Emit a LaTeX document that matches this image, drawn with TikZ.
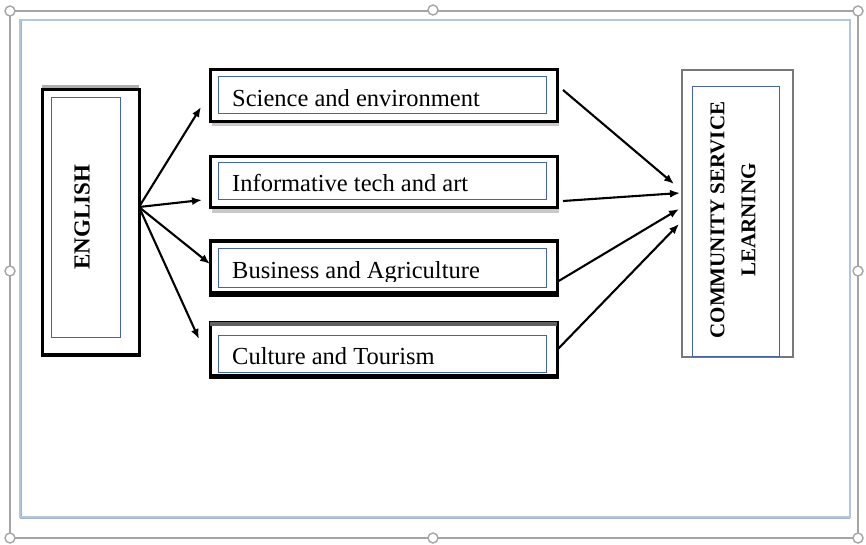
\documentclass[tikz,border=0pt]{standalone}
\usepackage{fontspec}
\setmainfont{Liberation Serif}
\usetikzlibrary{arrows.meta}
\definecolor{selgray}{RGB}{165,165,165}
\definecolor{framblue}{RGB}{178,198,222}
\definecolor{innerblue}{RGB}{70,100,165}
\definecolor{shade}{RGB}{120,120,120}
\tikzset{
  handle/.style={circle,draw=selgray,fill=white,line width=1.4pt,inner sep=0pt,minimum size=10pt},
  outerbox/.style={draw=black,line width=3pt,fill=white,inner sep=0pt},
  innerbox/.style={draw=innerblue,line width=0.9pt,inner sep=0pt},
  topic/.style={anchor=base west,inner sep=0pt,font=\fontsize{24.5}{28}\selectfont},
  flow/.style={line width=2.1pt,-{Latex[length=10pt,width=8pt]}},
}
\begin{document}
\begin{tikzpicture}[x=1pt,y=-1pt]
\useasboundingbox[fill=white] (0,0) rectangle (866,545);

% selection outline with its handles
\draw[selgray,line width=1.4pt] (10,11) rectangle (858,538);
\node[handle] (h1) at (10,11) {};
\node[handle] (h2) at (433,10) {};
\node[handle] (h3) at (858,11) {};
\node[handle] (h4) at (10,271) {};
\node[handle] (h5) at (858,271) {};
\node[handle] (h6) at (10,538) {};
\node[handle] (h7) at (433,538) {};
\node[handle] (h8) at (858,538) {};

% canvas frame
\draw[framblue!70!gray,line width=1.2pt] (21,21) -- (21,518) -- (850,518);
\draw[framblue,line width=2.4pt] (20,20) rectangle (850,517);

% ENGLISH block
\fill[shade!60] (42,85) rectangle (139,90);
\node[outerbox,minimum width=97pt,minimum height=265pt] (eng) at (90.5,222.5) {};
\draw[black,line width=3pt] (42,354) -- (139,354);
\node[innerbox,minimum width=69pt,minimum height=240pt] (engin) at (85.5,217) {};
\node[rotate=90,font=\bfseries\fontsize{23}{26}\selectfont] (engtxt) at (82,217) {ENGLISH};

% topic blocks
\fill[shade!40] (212,122) rectangle (559,126);
\node[outerbox,minimum width=347pt,minimum height=52pt] (sci) at (383.5,96) {};
\node[innerbox,minimum width=328pt,minimum height=37pt] (sciin) at (382,94.5) {};
\node[topic] (scitxt) at (232,107) {Science and environment};

\fill[shade!40] (212,208) rectangle (559,213);
\node[outerbox,minimum width=347pt,minimum height=51pt] (inf) at (383.5,182.5) {};
\node[innerbox,minimum width=328pt,minimum height=37pt] (infin) at (382,181) {};
\node[topic] (inftxt) at (232,192) {Informative tech and art};

\node[outerbox,minimum width=347pt,minimum height=55pt] (bus) at (383.5,267.5) {};
\draw[black,line width=3.5pt] (210,241.5) -- (557,241.5);
\draw[shade,line width=3.5pt] (210,293) -- (557,293);
\node[innerbox,minimum width=328pt,minimum height=39pt] (busin) at (382,268) {};
\begin{scope}
  \clip (218,248) rectangle (546,281);
  \node[topic] (bustxt) at (232,278) {Business and Agriculture};
\end{scope}

\node[outerbox,minimum width=347pt,minimum height=55pt] (cul) at (383.5,349.5) {};
\draw[shade!80!black,line width=3.5pt] (210,324) -- (557,324);
\draw[black,line width=3pt] (210,375.5) -- (557,375.5);
\node[innerbox,minimum width=328pt,minimum height=37pt] (culin) at (382,353.5) {};
\node[topic] (cultxt) at (232,364) {Culture and Tourism};

% outcome block
\node[draw=shade,line width=2pt,fill=white,inner sep=0pt,minimum width=111pt,minimum height=287pt] (csl) at (737.5,213.5) {};
\node[innerbox,minimum width=87pt,minimum height=270pt] (cslin) at (735.5,221) {};
\node[rotate=90,font=\bfseries\fontsize{21}{31}\selectfont,align=center] (csltxt) at (733,220) {COMMUNITY SERVICE\\LEARNING};

% connectors
\coordinate (src) at (139,207);
\coordinate (t1) at (201,107);
\coordinate (t2) at (202,200);
\coordinate (t3) at (210,264);
\coordinate (t4) at (199,339);
\draw[flow] (src) -- (t1);
\draw[flow] (src) -- (t2);
\draw[flow] (src) -- (t3);
\draw[flow] (src) -- (t4);

\coordinate (s1) at (563,90);
\coordinate (s2) at (563,201);
\coordinate (s3) at (557,282);
\coordinate (s4) at (557,350);
\coordinate (e1) at (674,184);
\coordinate (e2) at (680,193);
\coordinate (e3) at (679,209);
\coordinate (e4) at (679,224);
\draw[flow] (s1) -- (e1);
\draw[flow] (s2) -- (e2);
\draw[flow] (s3) -- (e3);
\draw[flow] (s4) -- (e4);
\end{tikzpicture}
\end{document}
